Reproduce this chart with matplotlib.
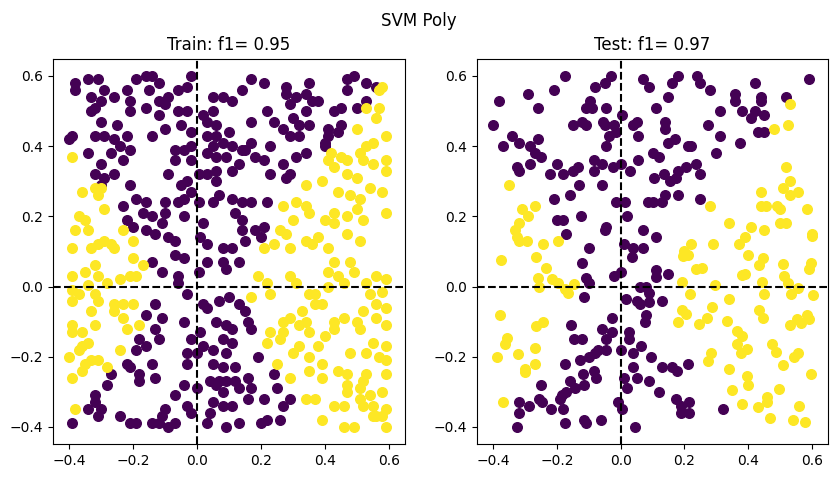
import matplotlib
matplotlib.use("Agg")
import matplotlib.pyplot as plt
import numpy as np

train_purple = [
(-0.38,0.58),(-0.38,0.56),(-0.34,0.59),(-0.31,0.59),(-0.33,0.54),(-0.29,0.56),(-0.30,0.53),(-0.32,0.51),(-0.33,0.50),
(-0.26,0.54),(-0.22,0.56),(-0.21,0.53),(-0.19,0.59),(-0.16,0.60),(-0.14,0.60),(-0.15,0.56),(-0.12,0.58),(-0.12,0.53),
(-0.09,0.54),(-0.06,0.56),(-0.03,0.57),(-0.02,0.60),(-0.21,0.50),(-0.16,0.51),(-0.12,0.49),(-0.10,0.52),(-0.06,0.50),
(-0.03,0.50),(-0.30,0.47),(-0.25,0.46),(-0.39,0.43),(-0.40,0.42),(-0.32,0.43),(-0.29,0.43),(-0.26,0.42),(-0.22,0.43),
(-0.21,0.39),(-0.24,0.40),(-0.34,0.38),(-0.27,0.38),(-0.30,0.35),(-0.23,0.36),(-0.14,0.43),(-0.10,0.45),(-0.05,0.46),
(-0.02,0.44),(-0.07,0.39),(-0.04,0.39),(-0.02,0.40),(-0.07,0.36),(-0.02,0.36),(-0.09,0.32),(-0.32,0.32),(-0.29,0.31),
(-0.26,0.32),(-0.21,0.29),(-0.30,0.29),(-0.05,0.29),(-0.03,0.30),(-0.02,0.27),(-0.06,0.24),(-0.04,0.25),(-0.23,0.23),
(-0.19,0.25),(-0.16,0.24),(-0.10,0.24),(-0.22,0.19),(-0.17,0.21),(-0.14,0.20),(-0.10,0.21),(-0.11,0.18),(-0.20,0.17),
(-0.16,0.16),(-0.13,0.15),(-0.09,0.14),(-0.07,0.13),(-0.04,0.20),(0.02,0.18),(0.01,0.14),(0.03,0.12),(0.005,0.24),
(0.05,0.54),(0.08,0.54),(0.11,0.53),(0.14,0.56),(0.17,0.59),(0.21,0.58),(0.28,0.57),(0.28,0.55),(0.35,0.58),(0.36,0.53),
(0.38,0.53),(0.31,0.54),(0.34,0.55),(0.29,0.52),(0.34,0.50),(0.47,0.59),(0.49,0.60),(0.53,0.58),(0.56,0.57),(0.47,0.56),
(0.53,0.53),(0.45,0.51),(0.43,0.50),(0.50,0.51),(0.02,0.49),(0.05,0.50),(0.03,0.47),(0.06,0.46),(0.17,0.47),(0.22,0.50),
(0.24,0.47),(0.30,0.48),(0.32,0.46),(0.27,0.45),(0.35,0.46),(0.41,0.45),(0.45,0.46),(0.44,0.44),(0.41,0.43),(0.29,0.43),
(0.32,0.43),(0.03,0.43),(0.06,0.43),(0.10,0.44),(0.05,0.40),(0.08,0.41),(0.11,0.40),(0.14,0.39),(0.17,0.41),(0.15,0.39),
(0.18,0.37),(0.21,0.36),(0.23,0.40),(0.27,0.35),(0.31,0.37),(0.34,0.38),(0.40,0.40),(0.40,0.41),(0.06,0.37),(0.09,0.37),
(0.13,0.35),(0.11,0.33),(0.03,0.38),(0.03,0.32),(0.06,0.33),(0.06,0.30),(0.005,0.32),(0.07,0.26),(0.05,0.24),(0.11,0.25),
(0.14,0.24),(0.17,0.24),(0.22,0.24),(0.23,0.32),(0.28,0.31),(0.29,0.32),(0.12,0.21),(0.14,0.19),(0.18,0.16),(0.20,0.14),
(0.14,0.16),(0.15,0.13),(0.08,0.11),(0.11,0.11),(0.21,0.17),
(-0.14,0.07),(-0.11,0.04),(-0.07,0.09),(-0.04,0.08),(-0.06,0.03),(-0.06,0.01),(0.005,0.04),(0.03,0.07),(0.08,0.07),
(0.13,0.07),(0.09,0.05),(-0.03,-0.02),(-0.13,-0.05),(0.02,-0.05),(0.03,-0.06),(0.07,-0.04),(0.10,-0.03),(0.13,-0.05),
(0.15,-0.07),(0.16,-0.10),(0.17,-0.12),(-0.16,-0.08),(-0.11,-0.09),(-0.13,-0.12),(-0.04,-0.10),(0.06,-0.10),(0.09,-0.11),
(0.11,-0.12),(0.01,-0.13),(-0.18,-0.15),(-0.12,-0.15),(-0.02,-0.15),(0.08,-0.15),(0.11,-0.16),(0.02,-0.17),(0.05,-0.18),
(0.09,-0.19),(-0.03,-0.19),(0.0,-0.19),(0.19,-0.20),(-0.19,-0.18),(-0.16,-0.17),(-0.22,-0.22),(-0.21,-0.23),(-0.14,-0.22),
(-0.03,-0.22),(0.05,-0.22),(0.08,-0.23),(0.12,-0.23),(-0.27,-0.25),(-0.28,-0.28),(-0.18,-0.25),(-0.18,-0.27),(-0.13,-0.26),
(-0.04,-0.28),(0.0,-0.29),(0.04,-0.27),(0.07,-0.27),(0.09,-0.27),(0.08,-0.30),(0.06,-0.28),(0.12,-0.27),(0.16,-0.26),
(0.13,-0.29),(0.17,-0.29),(0.24,-0.25),(0.25,-0.29),(0.16,-0.32),(0.21,-0.32),(-0.32,-0.31),(-0.32,-0.33),(-0.34,-0.35),
(-0.30,-0.35),(-0.31,-0.37),(-0.24,-0.37),(-0.21,-0.39),(-0.19,-0.39),(-0.14,-0.39),(-0.12,-0.39),(-0.10,-0.35),(-0.11,-0.37),
(-0.09,-0.40),(-0.07,-0.39),(-0.07,-0.31),(-0.03,-0.34),(-0.02,-0.36),(0.05,-0.33),(0.08,-0.34),(0.11,-0.34),(0.04,-0.36),
(0.03,-0.39),(0.09,-0.40),(0.13,-0.39),(0.20,-0.39),(0.22,-0.38),(0.26,-0.38),(0.27,-0.34),(0.29,-0.32),(-0.39,-0.39),
]
train_yellow = [
(-0.39,0.37),(-0.36,0.27),(-0.32,0.28),(-0.30,0.28),(-0.31,0.26),(-0.29,0.22),(-0.37,0.20),(-0.35,0.19),(-0.38,0.16),
(-0.34,0.16),(-0.23,0.16),(-0.29,0.13),(-0.31,0.12),(-0.27,0.12),(-0.20,0.13),(-0.39,0.11),(-0.33,0.11),(-0.26,0.11),
(0.58,0.57),(0.57,0.56),(0.53,0.51),(0.57,0.51),(0.56,0.48),(0.50,0.45),(0.59,0.43),(0.53,0.40),(0.55,0.41),(0.51,0.38),
(0.45,0.37),(0.42,0.38),(0.41,0.36),(0.43,0.34),(0.47,0.36),(0.52,0.36),(0.55,0.35),(0.59,0.36),(0.59,0.33),(0.47,0.32),
(0.50,0.31),(0.39,0.30),(0.34,0.29),(0.54,0.28),(0.58,0.27),(0.44,0.27),(0.48,0.26),(0.51,0.25),(0.27,0.23),(0.31,0.24),
(0.34,0.23),(0.35,0.21),(0.43,0.21),(0.50,0.22),(0.47,0.20),(0.52,0.19),(0.59,0.21),(0.40,0.19),(0.43,0.18),(0.30,0.19),
(0.26,0.16),(0.28,0.15),(0.38,0.14),(0.47,0.15),(0.51,0.13),(0.24,0.12),(0.21,0.11),(0.34,0.13),(0.36,0.12),(0.29,0.11),
(0.41,0.11),
(-0.39,0.03),(-0.35,0.04),(-0.32,0.06),(-0.31,0.03),(-0.28,0.01),(-0.24,0.02),(-0.21,0.03),(-0.19,0.03),(-0.20,0.08),
(-0.17,0.06),(-0.39,-0.01),(-0.37,-0.02),(-0.34,0.004),(-0.32,-0.02),(-0.39,-0.04),(-0.31,-0.04),(-0.33,-0.07),(-0.26,-0.05),
(-0.23,-0.05),(-0.20,-0.05),(-0.26,-0.07),(-0.23,-0.09),(-0.32,-0.11),(-0.39,-0.11),(-0.39,-0.13),(-0.36,-0.13),(-0.18,-0.11),
(-0.22,-0.12),(-0.34,-0.16),(-0.36,-0.17),(-0.37,-0.18),(-0.40,-0.20),(-0.33,-0.21),(-0.35,-0.22),(-0.31,-0.21),(-0.28,-0.23),
(-0.24,-0.18),(-0.36,-0.24),(-0.39,-0.26),(-0.38,-0.35),
(0.19,0.03),(0.22,0.01),(0.29,0.03),(0.31,0.01),(0.41,0.04),(0.44,0.03),(0.46,0.01),(0.49,0.04),(0.53,0.01),(0.56,0.03),
(0.59,0.02),(0.43,0.07),(0.48,0.07),(0.41,-0.001),(0.23,-0.02),(0.35,-0.02),(0.37,-0.02),(0.54,-0.02),(0.58,-0.015),
(0.17,-0.03),(0.37,-0.05),(0.33,-0.07),(0.39,-0.05),(0.52,-0.07),(0.56,-0.05),(0.59,-0.06),(0.27,-0.10),(0.29,-0.09),
(0.32,-0.11),(0.34,-0.10),(0.43,-0.10),(0.46,-0.09),(0.43,-0.12),(0.50,-0.10),(0.56,-0.09),(0.59,-0.11),(0.23,-0.13),
(0.27,-0.13),(0.35,-0.13),(0.40,-0.14),(0.51,-0.12),(0.22,-0.16),(0.26,-0.15),(0.32,-0.17),(0.38,-0.17),(0.53,-0.19),
(0.55,-0.16),(0.59,-0.17),(0.30,-0.19),(0.35,-0.20),(0.48,-0.19),(0.57,-0.20),(0.59,-0.21),(0.25,-0.22),(0.39,-0.22),
(0.35,-0.24),(0.44,-0.24),(0.39,-0.26),(0.29,-0.26),(0.47,-0.25),(0.53,-0.25),(0.59,-0.25),(0.52,-0.27),(0.47,-0.28),
(0.47,-0.30),(0.51,-0.29),(0.54,-0.31),(0.58,-0.30),(0.34,-0.32),(0.37,-0.32),(0.43,-0.34),(0.46,-0.34),(0.51,-0.32),
(0.52,-0.34),(0.55,-0.34),(0.56,-0.37),(0.59,-0.35),(0.58,-0.37),(0.55,-0.37),(0.46,-0.40),(0.49,-0.40),(0.39,-0.38),
(0.59,-0.40),
]
test_purple = [
(-0.175,0.60),(-0.29,0.55),(-0.21,0.56),(-0.38,0.53),(-0.26,0.51),(-0.40,0.46),(-0.08,0.57),(-0.05,0.58),(-0.03,0.60),
(-0.095,0.53),(-0.11,0.51),(-0.09,0.51),(-0.045,0.51),(0.005,0.49),(-0.15,0.46),(-0.12,0.47),(-0.11,0.46),(-0.055,0.47),
(-0.05,0.46),(-0.02,0.46),(-0.34,0.43),(-0.32,0.41),(-0.37,0.40),(-0.26,0.42),(-0.285,0.40),(-0.27,0.38),(-0.25,0.37),
(-0.035,0.43),(-0.015,0.44),(-0.045,0.40),(-0.325,0.34),(-0.32,0.33),(-0.285,0.35),(-0.20,0.35),(-0.22,0.32),(-0.18,0.32),
(-0.15,0.33),(-0.135,0.34),(-0.085,0.36),(-0.06,0.35),(-0.085,0.33),(-0.025,0.34),(0.0,0.35),(-0.13,0.29),(-0.06,0.29),
(-0.21,0.25),(-0.16,0.26),(-0.015,0.24),(0.015,0.24),(0.02,0.20),(-0.20,0.19),(-0.18,0.19),(-0.125,0.20),(-0.045,0.17),
(-0.05,0.16),(-0.17,0.15),(-0.10,0.11),(0.01,0.12),(0.04,0.11),(0.07,0.11),(0.07,0.59),(0.09,0.57),(0.16,0.58),(0.18,0.60),
(0.15,0.54),(0.11,0.51),(0.24,0.60),(0.25,0.58),(0.28,0.56),(0.36,0.55),(0.36,0.53),(0.42,0.58),(0.44,0.54),(0.44,0.53),
(0.52,0.54),(0.59,0.59),(0.31,0.50),(0.38,0.50),(0.42,0.50),(0.41,0.48),(0.45,0.49),(0.04,0.46),(0.05,0.47),(0.055,0.43),
(0.14,0.47),(0.14,0.45),(0.275,0.46),(0.31,0.43),(0.375,0.41),(0.43,0.44),(0.45,0.44),(0.15,0.41),(0.17,0.42),(0.21,0.40),
(0.22,0.40),(0.30,0.38),(0.10,0.38),(0.12,0.37),(0.055,0.36),(0.03,0.33),(0.105,0.31),(0.135,0.32),(0.155,0.30),(0.175,0.31),
(0.18,0.33),(0.205,0.34),(0.235,0.35),(0.25,0.32),(0.085,0.24),(0.10,0.24),(0.13,0.24),(0.14,0.26),(0.18,0.26),(0.25,0.25),
(0.07,0.16),(0.11,0.14),
(-0.12,0.066),(-0.11,0.025),(-0.10,0.01),(-0.115,-0.03),(-0.02,0.03),(0.0,0.04),(0.035,0.085),(0.11,0.047),(0.11,0.026),
(0.15,0.037),(0.06,0.0),(0.08,0.0),(0.09,-0.018),(0.016,-0.037),(0.05,-0.04),(0.06,-0.05),(0.088,-0.045),(0.13,-0.04),
(-0.026,-0.09),(0.08,-0.08),(0.075,-0.10),(-0.155,-0.11),(-0.057,-0.12),(0.026,-0.13),(0.025,-0.15),(-0.027,-0.13),
(-0.045,-0.15),(-0.147,-0.15),(-0.12,-0.15),(-0.045,-0.18),(-0.07,-0.18),(-0.08,-0.19),(-0.10,-0.20),(-0.127,-0.21),
(-0.175,-0.22),(0.0,-0.18),(0.04,-0.19),(0.065,-0.17),(0.095,-0.20),(0.13,-0.23),(0.16,-0.23),(0.176,-0.24),(0.21,-0.22),
(0.04,-0.23),(0.05,-0.26),(0.01,-0.26),(0.09,-0.27),(0.02,-0.29),(0.12,-0.30),(-0.117,-0.25),(-0.083,-0.24),(-0.076,-0.26),
(-0.115,-0.28),(-0.16,-0.27),(-0.143,-0.29),(-0.17,-0.30),(-0.185,-0.31),(-0.19,-0.32),(-0.25,-0.28),(-0.255,-0.32),
(-0.248,-0.33),(-0.287,-0.34),(-0.32,-0.33),(-0.32,-0.36),(-0.218,-0.35),(-0.18,-0.35),(-0.008,-0.33),(0.004,-0.35),
(0.174,-0.32),(0.214,-0.33),(0.19,-0.34),(0.188,-0.36),(0.215,-0.36),(0.32,-0.35),(-0.325,-0.40),(-0.174,-0.39),
(-0.115,-0.38),(-0.11,-0.39),(-0.063,-0.38),(0.046,-0.40),
]
test_yellow = [
(-0.35,0.29),(-0.31,0.22),(-0.27,0.23),(-0.29,0.20),(-0.32,0.18),(-0.33,0.16),(-0.325,0.14),(-0.32,0.13),(-0.295,0.13),
(-0.245,0.12),(-0.195,0.13),(0.53,0.52),(0.525,0.46),(0.48,0.45),(0.52,0.34),(0.53,0.30),(0.51,0.28),(0.555,0.27),(0.53,0.26),
(0.44,0.27),(0.49,0.23),(0.50,0.22),(0.44,0.23),(0.455,0.23),(0.585,0.22),(0.28,0.23),(0.34,0.18),(0.41,0.17),(0.45,0.16),
(0.50,0.18),(0.52,0.18),(0.60,0.15),(0.60,0.145),(0.39,0.14),(0.37,0.12),(0.29,0.12),(0.22,0.12),(0.20,0.10),
(-0.376,0.075),(-0.267,0.085),(-0.235,0.052),(-0.26,0.025),(-0.256,0.0),(-0.215,0.021),(-0.196,0.009),(-0.173,-0.008),
(-0.165,-0.018),(-0.147,0.007),(-0.378,-0.082),(-0.267,-0.113),(-0.243,-0.10),(-0.357,-0.148),(-0.362,-0.163),(-0.389,-0.20),
(-0.323,-0.191),(-0.268,-0.174),(-0.27,-0.222),(-0.30,-0.234),(-0.30,-0.245),(-0.368,-0.33),(0.195,0.087),(0.21,0.09),
(0.236,0.049),(0.254,0.052),(0.193,0.014),(0.217,-0.02),(0.297,0.004),(0.34,-0.037),(0.40,0.09),(0.447,0.08),(0.434,0.061),
(0.379,0.033),(0.39,0.037),(0.442,0.014),(0.448,-0.02),(0.51,0.064),(0.596,0.066),(0.59,0.049),(0.512,0.03),(0.526,0.011),
(0.556,-0.004),(0.533,-0.02),(0.604,-0.025),(0.286,-0.058),(0.192,-0.067),(0.205,-0.077),(0.18,-0.10),(0.246,-0.106),
(0.27,-0.091),(0.335,-0.099),(0.434,-0.067),(0.447,-0.089),(0.53,-0.11),(0.552,-0.094),(0.565,-0.105),(0.585,-0.08),
(0.59,-0.093),(0.364,-0.127),(0.382,-0.142),(0.366,-0.164),(0.396,-0.177),(0.377,-0.189),(0.283,-0.19),(0.275,-0.212),
(0.474,-0.163),(0.486,-0.186),(0.544,-0.20),(0.557,-0.19),(0.51,-0.225),(0.34,-0.236),(0.396,-0.255),(0.40,-0.28),
(0.35,-0.296),(0.495,-0.291),(0.596,-0.25),(0.46,-0.315),(0.46,-0.33),(0.38,-0.336),(0.43,-0.344),(0.56,-0.34),
(0.468,-0.376),(0.54,-0.38),(0.577,-0.387),
]

titles = ["Train: f1= 0.95", "Test: f1= 0.97"]
suptitle = "SVM Poly"
purple, yellow = "#440154", "#fde725"

fig = plt.figure(figsize=(8.38, 4.78), dpi=100)
fig.suptitle(suptitle, fontsize=12, y=0.975)
positions = [[0.063, 0.071, 0.420, 0.806], [0.569, 0.071, 0.419, 0.806]]
for pos, title, P, Y in zip(positions, titles, [train_purple, test_purple], [train_yellow, test_yellow]):
    ax = fig.add_axes(pos)
    P = np.array(P); Y = np.array(Y)
    ax.scatter(P[:, 0], P[:, 1], s=48, color=purple)
    ax.scatter(Y[:, 0], Y[:, 1], s=48, color=yellow)
    ax.axhline(0, color="black", ls="--")
    ax.axvline(0, color="black", ls="--")
    ax.set_xlim(-0.451, 0.65)
    ax.set_ylim(-0.449, 0.649)
    ax.set_xticks([-0.4, -0.2, 0.0, 0.2, 0.4, 0.6])
    ax.set_yticks([-0.4, -0.2, 0.0, 0.2, 0.4, 0.6])
    ax.set_title(title, fontsize=12)
fig.savefig("out.png", dpi=100)
